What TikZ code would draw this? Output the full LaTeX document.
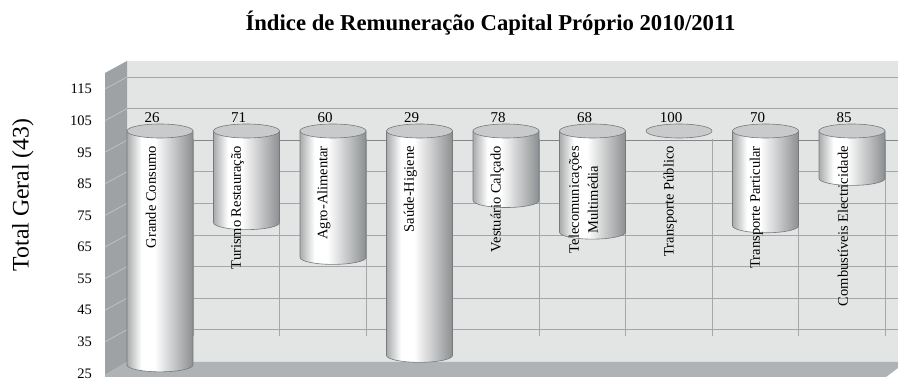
\documentclass[tikz,border=0pt]{standalone}
\usepackage{fontspec}
\setmainfont{Liberation Serif}

\definecolor{wallgray}{HTML}{E3E4E4}
\definecolor{gridgray}{HTML}{A3A7A9}
\definecolor{sidegray}{HTML}{9EA2A4}
\definecolor{sideline}{HTML}{C2C5C7}
\definecolor{floorgray}{HTML}{B0B3B5}
\definecolor{cyltop}{HTML}{C9CACB}
\definecolor{cylline}{HTML}{767A7C}
\definecolor{cyledge}{HTML}{A9ABAC}
\definecolor{cyldark}{HTML}{8C8F91}

\pgfdeclarehorizontalshading{cylshade}{100bp}{color(0bp)=(cyledge); color(25bp)=(cyledge); color(36bp)=(white); color(46bp)=(white); color(75bp)=(cyldark); color(100bp)=(cyldark)}

\tikzset{
  grid line/.style={draw=gridgray, line width=0.9pt},
  tick label/.style={anchor=east, inner sep=0pt, font=\fontsize{14.5}{17}\selectfont},
  value label/.style={inner sep=0pt, font=\fontsize{15}{18}\selectfont},
  cat label/.style={rotate=90, anchor=east, align=center, inner sep=0pt, font=\fontsize{14.5}{19}\selectfont},
  cyl body/.style={shade, shading=cylshade, draw=cylline, line width=0.6pt},
  cyl top/.style={fill=cyltop, draw=cylline, line width=0.6pt}
}

\begin{document}
\begin{tikzpicture}[x=1pt, y=1pt]
  \useasboundingbox (0,0) rectangle (898,380);
  \fill[white] (0,0) rectangle (898,380);

  % walls and floor
  \fill[wallgray] (127,18) rectangle (898,319);
  \fill[sidegray] (105,307) -- (127,319) -- (127,18) -- (105,5) -- cycle;
  \fill[floorgray] (105,3) -- (105,5) -- (127,18) -- (898,18) -- (898,12) -- (886,3) -- cycle;

  % horizontal grid and ticks
  \foreach \v in {115,105,...,35}{
    \draw[grid line] (127,{3.16*\v-60.4}) -- (898,{3.16*\v-60.4});
    \draw[sideline, line width=0.7pt] (127,{3.16*\v-60.4}) -- (105,{3.16*\v-72.4});
  }
  \draw[gridgray!80!black, line width=1.3pt] (127,{3.16*95-60.4}) -- (898,{3.16*95-60.4});
  \foreach \v in {115,105,...,25}{
    \node[tick label] (tick\v) at (92,{3.16*\v-72.5}) {\v};
  }

  % vertical grid
  \foreach \k in {0,...,8}{
    \draw[grid line] ({193+86.5*\k},241) -- ({193+86.5*\k},44);
  }

  % cylinders
  \foreach \v/\t [count=\i from 0] in {26/Grande Consumo, 71/Turismo Restauração, 60/Agro-Alimentar, 29/Saúde-Higiene, 78/Vestuário Calçado, 68/Telecomunicações\\Multimédia, 100/Transporte Público, 70/Transporte Particular, 85/Combustíveis Electricidade}{
    \pgfmathsetmacro\cx{160+86.5*\i}
    \pgfmathsetmacro\yb{3.16*\v-67}
    \ifnum\v<100
      \path[cyl body] (\cx-33,249) -- (\cx-33,\yb) arc[start angle=180, end angle=360, x radius=33, y radius=7] -- (\cx+33,249) -- cycle;
    \fi
    \path[cyl top] (\cx,249) ellipse [x radius=33, y radius=7];
    \node[value label] (val\i) at (\cx-8,262) {\v};
    \node[cat label] (cat\i) at (\cx-9,234) {\t};
  }

  \node[font=\bfseries\fontsize{22.7}{27}\selectfont, anchor=base] (title) at (490.5,349) {Índice de Remuneração Capital Próprio 2010/2011};
  \node[rotate=90, font=\fontsize{23.7}{28}\selectfont] (ytitle) at (23,185) {Total Geral (43)};
\end{tikzpicture}
\end{document}
